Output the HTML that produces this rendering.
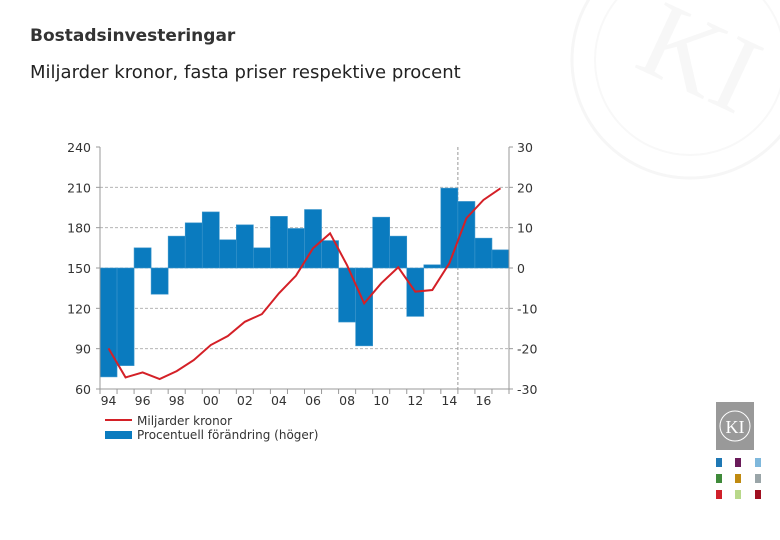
<!DOCTYPE html>
<html><head><meta charset="utf-8"><style>
body{margin:0;background:#fff;width:780px;height:540px;overflow:hidden;font-family:"DejaVu Sans","Liberation Sans",sans-serif}
.t{position:absolute;left:30px;top:26px;font-size:17px;font-weight:bold;color:#333}
.s{position:absolute;left:30px;top:62px;font-size:18px;color:#222}
svg{position:absolute;left:0;top:0}
</style></head><body>
<svg width="780" height="540">
<circle cx="690" cy="60" r="118" fill="none" stroke="#f6f6f6" stroke-width="3"/>
<circle cx="690" cy="60" r="95" fill="none" stroke="#f8f8f8" stroke-width="2"/>
<text x="640" y="90" font-family="Liberation Serif" font-size="110" fill="#f7f7f7" transform="rotate(25 690 60)">KI</text>
</svg>
<div class="t">Bostadsinvesteringar</div>
<div class="s">Miljarder kronor, fasta priser respektive procent</div>
<svg id="c" width="780" height="540" font-family="DejaVu Sans, sans-serif"></svg>
<svg width="780" height="540">
<rect x="716" y="402" width="38" height="48" fill="#999"/>
<circle cx="735" cy="426" r="15" fill="none" stroke="#fff" stroke-width="1"/>
<text x="735" y="433" text-anchor="middle" font-family="Liberation Serif" font-size="18" fill="#fff">KI</text>
<rect x="716" y="458" width="6" height="9" fill="#1f78b4"/><rect x="735" y="458" width="6" height="9" fill="#6a1b5a"/><rect x="755" y="458" width="6" height="9" fill="#7fb8dc"/>
<rect x="716" y="474" width="6" height="9" fill="#3f8a3a"/><rect x="735" y="474" width="6" height="9" fill="#c08a10"/><rect x="755" y="474" width="6" height="9" fill="#9aa5a8"/>
<rect x="716" y="490" width="6" height="9" fill="#d0202a"/><rect x="735" y="490" width="6" height="9" fill="#b8d88a"/><rect x="755" y="490" width="6" height="9" fill="#a01020"/>
</svg>
<script>
const years=["94","95","96","97","98","99","00","01","02","03","04","05","06","07","08","09","10","11","12","13","14","15","16","17"];
const pct=[-27,-24.2,5,-6.5,7.9,11.2,13.9,7,10.7,5,12.8,9.8,14.5,6.8,-13.4,-19.3,12.6,7.9,-12,0.8,19.8,16.5,7.4,4.5];
const level=[90.2,68.6,72.3,67.4,73.3,81.5,92.7,99.4,110,115.7,131.2,144.3,164.7,175.8,152,123.7,138.6,150.5,132.4,133.6,153.5,187,200.6,209.3];
const leftTicks=[60,90,120,150,180,210,240];
const rightTicks=[-30,-20,-10,0,10,20,30];
const xLabels=["94","96","98","00","02","04","06","08","10","12","14","16"];
const svg=document.getElementById('c');const NS='http://www.w3.org/2000/svg';
const L=100,R=509,T=147,B=389;
const bw=(R-L)/years.length;
const yl=v=>B-(v-60)/180*(B-T);
const yr=v=>B-(v+30)/60*(B-T);
const xc=i=>L+(i+0.5)*bw;
function el(tag,a,p){const e=document.createElementNS(NS,tag);for(const k in a)e.setAttribute(k,a[k]);(p||svg).appendChild(e);return e;}
leftTicks.forEach((v,i)=>{const y=yl(v);
 if(v>60&&v<240){const g=el('line',{x1:L,x2:R,y1:y,y2:y,stroke:'#aaa','stroke-dasharray':'3,2','stroke-width':0.8});
 
 }
 const t=el('text',{x:L-9,y:y+5,'text-anchor':'end','font-size':12.5,fill:'#333'});t.textContent=v;
 
 
 el('line',{x1:L-4,x2:L,y1:y,y2:y,stroke:'#999'});
});
rightTicks.forEach(v=>{const y=yr(v);
 const t=el('text',{x:R+8,y:y+5,'font-size':12.5,fill:'#333'});t.textContent=v;
 
 
 el('line',{x1:R,x2:R+4,y1:y,y2:y,stroke:'#999'});
});
const fx=L+21*bw;
const fl=el('line',{x1:fx,x2:fx,y1:T,y2:B,stroke:'#999','stroke-dasharray':'3,2'});


pct.forEach((v,i)=>{const y0=yr(0),y1=yr(v);
 const b=el('rect',{x:L+i*bw,y:Math.min(y0,y1),width:bw,height:Math.abs(y1-y0),fill:'#0a7bbf',stroke:'#3d96cc','stroke-width':0.6});
 
 
});
el('line',{x1:L,x2:L,y1:T,y2:B,stroke:'#999'});
el('line',{x1:R,x2:R,y1:T,y2:B,stroke:'#999'});
el('line',{x1:L,x2:R,y1:B,y2:B,stroke:'#999'});
for(let i=0;i<=years.length;i++){el('line',{x1:L+i*bw,x2:L+i*bw,y1:B,y2:B+5,stroke:'#999'});}
xLabels.forEach((s,k)=>{const i=years.indexOf(s);
 const t=el('text',{x:xc(i),y:B+16,'text-anchor':'middle','font-size':12.5,fill:'#333'});t.textContent=s;
 
 
});
const p=el('polyline',{points:level.map((v,i)=>xc(i)+','+yl(v)).join(' '),fill:'none',stroke:'#d42027','stroke-width':2});


el('line',{x1:105,x2:132,y1:420,y2:420,stroke:'#d42027','stroke-width':2});
let t=el('text',{x:137,y:425,'font-size':12,fill:'#333'});t.textContent='Miljarder kronor';


el('rect',{x:105,y:431,width:27,height:8,fill:'#0a7bbf'});
t=el('text',{x:137,y:439,'font-size':12,fill:'#333'});t.textContent='Procentuell förändring (höger)';


</script>
</body></html>
